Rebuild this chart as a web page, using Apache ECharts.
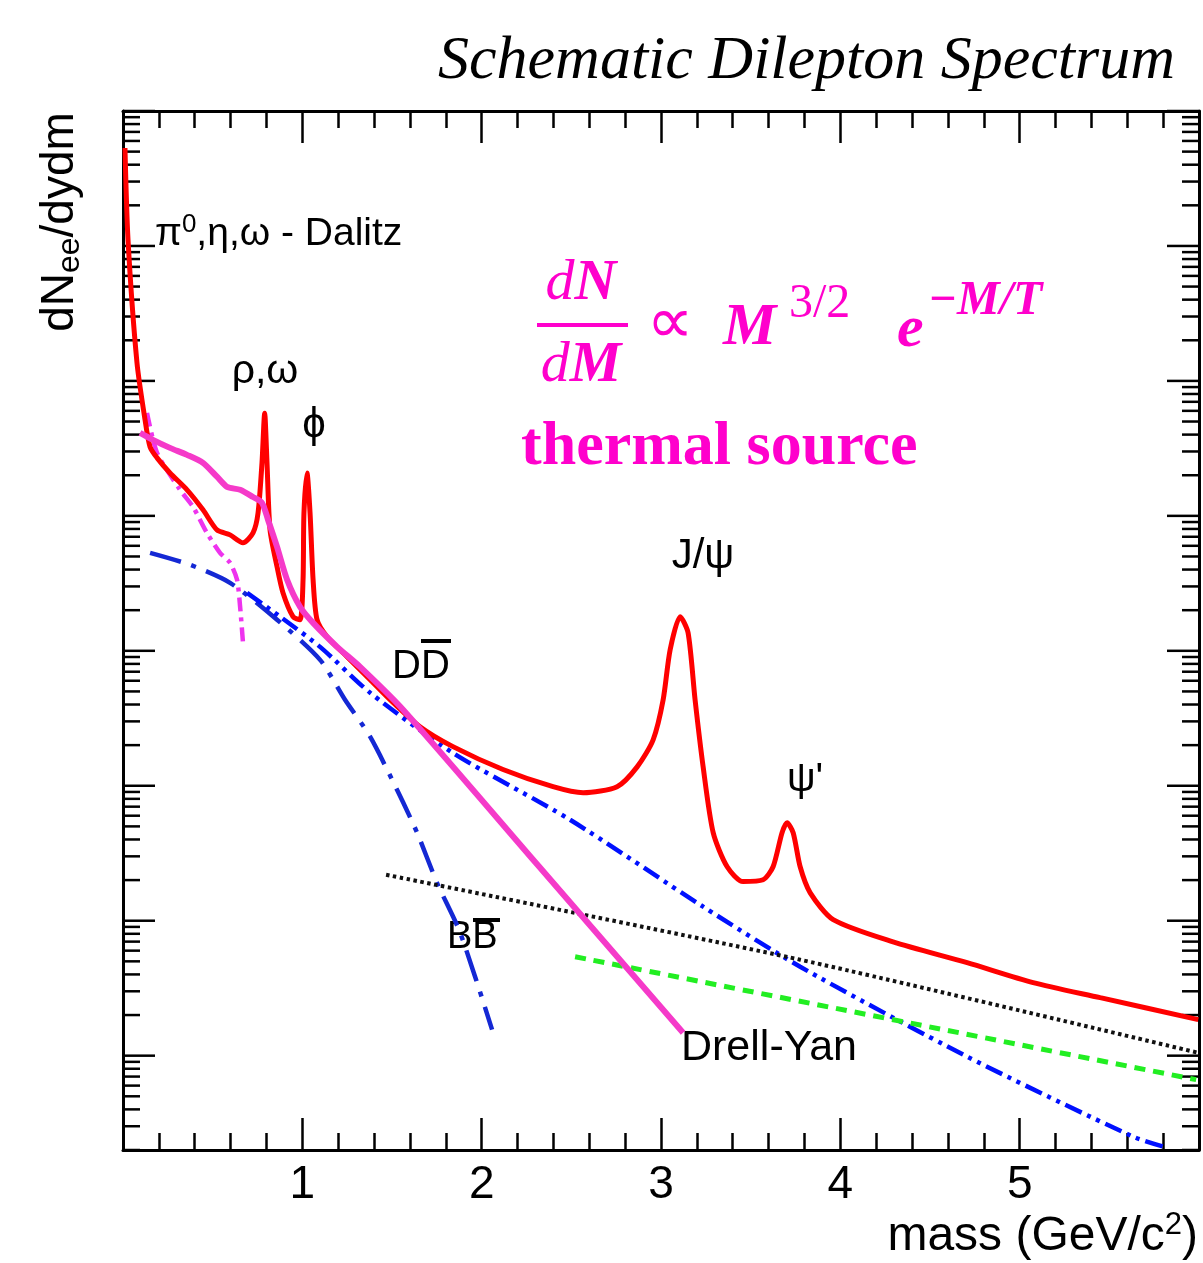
<!DOCTYPE html>
<html>
<head>
<meta charset="utf-8">
<script src="https://cdn.jsdelivr.net/npm/echarts@6/dist/echarts.min.js"></script>
<style>
  html, body { margin: 0; padding: 0; background: #fff; }
  #chart { width: 1203px; height: 1263px; }
</style>
</head>
<body>
<div id="chart"></div>
<script>
// mass (GeV/c^2) vs dN/dydm
const totalSpectrum = [
  [0.011, 5.32e-1], [0.028, 1.11e-1], [0.078, 1.36e-2], [0.123, 5.14e-3], [0.151, 3.24e-3],
  [0.190, 2.69e-3], [0.262, 2.08e-3], [0.357, 1.56e-3], [0.446, 1.11e-3], [0.524, 7.87e-4],
  [0.597, 7.23e-4], [0.669, 6.31e-4], [0.725, 7.48e-4], [0.753, 1.05e-3], [0.775, 2.47e-3],
  [0.790, 5.75e-3], [0.803, 2.47e-3], [0.820, 7.87e-4], [0.859, 4.19e-4], [0.892, 2.69e-4],
  [0.948, 1.79e-4], [0.987, 1.70e-4], [1.004, 3.36e-4], [1.009, 1.05e-3], [1.026, 2.08e-3],
  [1.043, 1.05e-3], [1.060, 3.36e-4], [1.082, 1.70e-4], [1.138, 1.27e-4], [1.249, 9.04e-5],
  [1.378, 6.10e-5], [1.489, 4.34e-5], [1.656, 2.74e-5], [1.840, 1.95e-5], [2.119, 1.32e-5],
  [2.398, 9.84e-6], [2.566, 8.87e-6], [2.755, 9.84e-6], [2.867, 1.38e-5], [2.956, 2.19e-5],
  [3.012, 4.34e-5], [3.051, 1.02e-4], [3.107, 1.79e-4], [3.151, 1.36e-4], [3.190, 4.34e-5],
  [3.235, 1.38e-5], [3.291, 4.49e-6], [3.369, 2.51e-6], [3.458, 1.95e-6], [3.569, 2.01e-6],
  [3.625, 2.51e-6], [3.675, 4.49e-6], [3.703, 5.32e-6], [3.737, 4.49e-6], [3.776, 2.51e-6],
  [3.832, 1.61e-6], [3.960, 1.02e-6], [4.294, 6.98e-7], [4.707, 4.89e-7], [5.075, 3.48e-7],
  [5.449, 2.69e-7], [5.996, 1.85e-7]
];
const thermal = [
  [0.095, 4.12e-3], [0.167, 3.66e-3], [0.262, 3.19e-3], [0.357, 2.83e-3], [0.446, 2.47e-3],
  [0.524, 1.95e-3], [0.580, 1.64e-3], [0.653, 1.56e-3], [0.725, 1.38e-3], [0.775, 1.25e-3],
  [0.809, 9.33e-4], [0.859, 5.89e-4], [0.915, 3.36e-4], [0.987, 2.12e-4], [1.060, 1.61e-4],
  [1.194, 1.07e-4], [1.322, 7.60e-5], [1.562, 3.66e-5], [2.309, 2.62e-6], [3.123, 1.48e-7]
];
const dalitz = [
  [0.134, 5.79e-3], [0.190, 2.93e-3], [0.318, 1.56e-3], [0.390, 1.17e-3], [0.468, 7.48e-4],
  [0.541, 5.32e-4], [0.597, 4.49e-4], [0.636, 3.36e-4], [0.653, 2.12e-4], [0.669, 1.15e-4]
];
const bbbar = [
  [0.151, 5.32e-4], [0.374, 4.34e-4], [0.597, 3.19e-4], [0.859, 1.70e-4], [1.099, 8.57e-5],
  [1.238, 4.34e-5], [1.378, 2.31e-5], [1.528, 9.33e-6], [1.640, 4.49e-6], [1.751, 1.91e-6],
  [1.880, 8.15e-7], [2.058, 1.56e-7]
];
const ddbar = [
  [0.692, 2.69e-4], [0.876, 1.79e-4], [1.099, 1.07e-4], [1.378, 4.89e-5], [1.840, 1.75e-5],
  [2.493, 5.60e-6], [3.235, 1.27e-6], [3.776, 4.56e-7], [4.707, 9.84e-8], [5.633, 2.51e-8],
  [5.823, 2.08e-8]
];
const drellYanBlack = [[1.467, 2.19e-6], [3.776, 5.14e-7], [5.996, 1.05e-7]];
const drellYanGreen = [[2.521, 5.41e-7], [5.984, 6.64e-8]];

const yMajorTicks = [1e-7, 1e-6, 1e-5, 1e-4, 1e-3, 1e-2, 1e-1, 1];
const yDecades = [1e-8, 1e-7, 1e-6, 1e-5, 1e-4, 1e-3, 1e-2, 1e-1];
const yMinorSteps = [2, 3, 4, 5, 6, 7, 8, 9];

const Y_MIN = 2e-8, Y_MAX = 1, X_MIN = 0, X_MAX = 6;

const tickData = yMajorTicks.map(v => [X_MIN, v, 1]);
yDecades.forEach(d => yMinorSteps.forEach(k => {
  const v = d * k;
  if (v >= Y_MIN && v < Y_MAX) tickData.push([X_MIN, v, 0]);
}));

const SANS = '"Liberation Sans", Arial, sans-serif';
const SERIF = '"Liberation Serif", "Times New Roman", serif';
const PINK = '#ff00cc';

const chart = echarts.init(document.getElementById('chart'), null, { renderer: 'canvas' });

const lineSeries = (data, color, width, dash, z) => ({
  type: 'line',
  data,
  symbol: 'none',
  smooth: 0.25,
  z,
  lineStyle: { color, width, type: dash, cap: 'butt' },
  silent: true
});

const xAxisBase = {
  type: 'value', min: X_MIN, max: X_MAX, interval: 1,
  axisLine: { show: true, onZero: false, lineStyle: { color: '#000', width: 3 } },
  axisTick: { show: true, inside: true, length: 32, lineStyle: { color: '#000', width: 2.5 } },
  minorTick: { show: true, splitNumber: 5, length: 17, lineStyle: { color: '#000', width: 2.5 } },
  splitLine: { show: false },
  minorSplitLine: { show: false }
};

const yAxisBase = {
  type: 'log', logBase: 10, min: Y_MIN, max: Y_MAX,
  axisLine: { show: true, onZero: false, lineStyle: { color: '#000', width: 3 } },
  axisTick: { show: false },
  axisLabel: { show: false },
  splitLine: { show: false }
};

chart.setOption({
  animation: false,
  backgroundColor: '#fff',
  grid: { left: 123, right: 4, top: 111, bottom: 113 },
  xAxis: [
    Object.assign({}, xAxisBase, {
      position: 'bottom',
      axisLabel: {
        show: true, color: '#000', fontFamily: SANS, fontSize: 46, margin: 12,
        formatter: v => (v === X_MIN || v === X_MAX) ? '' : String(v)
      }
    }),
    Object.assign({}, xAxisBase, { position: 'top', axisLabel: { show: false } })
  ],
  yAxis: [
    Object.assign({}, yAxisBase, { position: 'left' }),
    Object.assign({}, yAxisBase, { position: 'right' })
  ],
  series: [
    {
      type: 'custom',
      data: tickData,
      encode: { x: 0, y: 1 },
      silent: true,
      z: 1,
      renderItem: (params, api) => {
        const v = api.value(1);
        const len = api.value(2) ? 32 : 17;
        const l = api.coord([X_MIN, v]);
        const r = api.coord([X_MAX, v]);
        const st = { stroke: '#000', lineWidth: 2.5 };
        return {
          type: 'group',
          children: [
            { type: 'line', shape: { x1: l[0], y1: l[1], x2: l[0] + len, y2: l[1] }, style: st },
            { type: 'line', shape: { x1: r[0], y1: r[1], x2: r[0] - len, y2: r[1] }, style: st }
          ]
        };
      }
    },
    lineSeries(bbbar, '#1428d4', 4.5, [32, 11, 5, 11], 3),
    lineSeries(ddbar, '#0010ff', 4.5, [18, 6, 4, 6, 4, 6], 3),
    lineSeries(drellYanBlack, '#111', 4, [3.5, 3.5], 3),
    lineSeries(drellYanGreen, '#22ee22', 5, [11, 8], 3),
    lineSeries(dalitz, '#ee33ee', 4.5, [14, 6, 4, 6], 4),
    lineSeries(totalSpectrum, '#ff0000', 5, 'solid', 5),
    lineSeries(thermal, '#f53ac9', 6, 'solid', 6)
  ],
  graphic: [
    {
      type: 'text', x: 1175, y: 62,
      style: { text: 'Schematic Dilepton Spectrum', font: `italic 62px ${SERIF}`, fill: '#000', align: 'right', verticalAlign: 'middle' }
    },
    {
      type: 'text', x: 60, y: 222, rotation: Math.PI / 2,
      style: {
        text: '{n|dN}{s|ee}{n|/dydm}', align: 'center', verticalAlign: 'middle',
        rich: {
          n: { fontFamily: SANS, fontSize: 46, fill: '#000', lineHeight: 52 },
          s: { fontFamily: SANS, fontSize: 32, fill: '#000', verticalAlign: 'bottom', padding: [14, 0, 0, 0] }
        }
      }
    },
    {
      type: 'text', x: 1198, y: 1237,
      style: {
        text: '{n|mass (GeV/c}{p|2}{n|)}', align: 'right', verticalAlign: 'middle',
        rich: {
          n: { fontFamily: SANS, fontSize: 48, fill: '#000', lineHeight: 54 },
          p: { fontFamily: SANS, fontSize: 31, fill: '#000', verticalAlign: 'top' }
        }
      }
    },
    {
      type: 'text', x: 155, y: 234,
      style: {
        text: '{n|π}{p|0}{n|,η,ω - Dalitz}', align: 'left', verticalAlign: 'middle',
        rich: {
          n: { fontFamily: SANS, fontSize: 39, fill: '#000', lineHeight: 44 },
          p: { fontFamily: SANS, fontSize: 26, fill: '#000', verticalAlign: 'top' }
        }
      }
    },
    { type: 'text', x: 265, y: 372, style: { text: 'ρ,ω', font: `41px ${SANS}`, fill: '#000', align: 'center', verticalAlign: 'middle' } },
    { type: 'text', x: 314, y: 425, style: { text: 'ϕ', font: `42px ${SANS}`, fill: '#000', align: 'center', verticalAlign: 'middle' } },
    { type: 'text', x: 392, y: 667, style: { text: 'DD', font: `40px ${SANS}`, fill: '#000', align: 'left', verticalAlign: 'middle' } },
    { type: 'rect', shape: { x: 421, y: 639, width: 30, height: 4 }, style: { fill: '#000' } },
    { type: 'text', x: 703, y: 556, style: { text: 'J/ψ', font: `42px ${SANS}`, fill: '#000', align: 'center', verticalAlign: 'middle' } },
    { type: 'text', x: 805, y: 780, style: { text: "ψ'", font: `40px ${SANS}`, fill: '#000', align: 'center', verticalAlign: 'middle' } },
    { type: 'text', x: 447, y: 938, style: { text: 'BB', font: `38px ${SANS}`, fill: '#000', align: 'left', verticalAlign: 'middle' } },
    { type: 'rect', shape: { x: 473, y: 918, width: 27, height: 4 }, style: { fill: '#000' } },
    { type: 'text', x: 681, y: 1048, style: { text: 'Drell-Yan', font: `43px ${SANS}`, fill: '#000', align: 'left', verticalAlign: 'middle' } },
    // thermal formula
    {
      type: 'text', x: 581, y: 284,
      style: {
        text: '{i|d}{b|N}', align: 'center', verticalAlign: 'middle',
        rich: { i: { font: `italic 58px ${SERIF}`, fill: PINK }, b: { font: `bold italic 58px ${SERIF}`, fill: PINK } }
      }
    },
    { type: 'rect', shape: { x: 537, y: 323, width: 91, height: 4 }, style: { fill: PINK } },
    {
      type: 'text', x: 581, y: 366,
      style: {
        text: '{i|d}{b|M}', align: 'center', verticalAlign: 'middle',
        rich: { i: { font: `italic 58px ${SERIF}`, fill: PINK }, b: { font: `bold italic 58px ${SERIF}`, fill: PINK } }
      }
    },
    { type: 'text', x: 670, y: 326, style: { text: '∝', font: `66px "DejaVu Sans", sans-serif`, fill: PINK, align: 'center', verticalAlign: 'middle' } },
    { type: 'text', x: 723, y: 328, style: { text: 'M', font: `bold italic 60px ${SERIF}`, fill: PINK, align: 'left', verticalAlign: 'middle' } },
    { type: 'text', x: 789, y: 304, style: { text: '3/2', font: `48px ${SERIF}`, fill: PINK, align: 'left', verticalAlign: 'middle' } },
    { type: 'text', x: 897, y: 330, style: { text: 'e', font: `bold italic 60px ${SERIF}`, fill: PINK, align: 'left', verticalAlign: 'middle' } },
    { type: 'text', x: 928, y: 302, style: { text: '−M/T', font: `bold italic 48px ${SERIF}`, fill: PINK, align: 'left', verticalAlign: 'middle' } },
    { type: 'text', x: 521, y: 448, style: { text: 'thermal source', font: `bold 62px ${SERIF}`, fill: PINK, align: 'left', verticalAlign: 'middle' } }
  ]
});
</script>
</body>
</html>
